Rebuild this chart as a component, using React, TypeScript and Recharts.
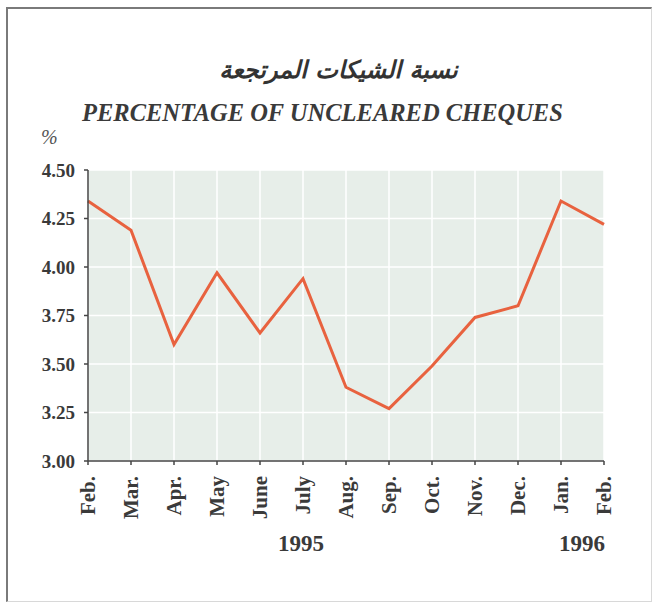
import { LineChart, Line, XAxis, YAxis, CartesianGrid } from "recharts";

const months = ["Feb.", "Mar.", "Apr.", "May", "June", "July", "Aug.", "Sep.", "Oct.", "Nov.", "Dec.", "Jan.", "Feb."];
const uncleared = [4.34, 4.19, 3.6, 3.97, 3.66, 3.94, 3.38, 3.27, 3.49, 3.74, 3.8, 4.34, 4.22];
const yTicks = [3, 3.25, 3.5, 3.75, 4, 4.25, 4.5];

const data = months.map((m, i) => ({ idx: i, month: m, value: uncleared[i] }));

const serif = "'Liberation Serif', 'Times New Roman', serif";

// rotated month labels, reading bottom-to-top
// eslint-disable-next-line @typescript-eslint/no-explicit-any
function MonthTick({ x, y, payload }: any) {
  const tx = x + 7;
  const ty = y + 9;
  return (
    <text
      x={tx}
      y={ty}
      transform={`rotate(-90 ${tx} ${ty})`}
      textAnchor="end"
      fontFamily={serif}
      fontWeight="bold"
      fontSize={21}
      fill="#3a3a3a"
    >
      {months[payload.value]}
    </text>
  );
}

export default function App() {
  return (
    <div style={{ position: "absolute", left: 0, top: 0, width: 653, height: 604, background: "#fff", fontFamily: serif }}>
      <div
        style={{
          position: "absolute",
          left: 6,
          top: 7,
          width: 643,
          height: 592,
          borderLeft: "2px solid #7a7a7a",
          borderTop: "2px solid #7a7a7a",
          borderRight: "1px solid #d8d8d8",
          borderBottom: "1px solid #d8d8d8",
        }}
      />
      <div style={{ position: "absolute", left: 12, width: 653, top: 56, textAlign: "center", fontFamily: "'DejaVu Sans', sans-serif", fontSize: 24, fontWeight: "bold", fontStyle: "italic", color: "#333" }} dir="rtl">
        نسبة الشيكات المرتجعة
      </div>
      <div style={{ position: "absolute", left: 82, top: 99, fontSize: 24.5, fontWeight: "bold", fontStyle: "italic", color: "#3a3a3a", whiteSpace: "nowrap" }}>
        PERCENTAGE OF UNCLEARED CHEQUES
      </div>
      <div style={{ position: "absolute", left: 41, top: 126, fontSize: 20, fontStyle: "italic", color: "#555" }}>%</div>
      <div style={{ position: "absolute", left: 278, top: 531, fontSize: 23, fontWeight: "bold", color: "#3a3a3a" }}>1995</div>
      <div style={{ position: "absolute", left: 559, top: 531, fontSize: 23, fontWeight: "bold", color: "#3a3a3a" }}>1996</div>
      <LineChart width={653} height={604} data={data} margin={{ top: 170, right: 49, left: 28, bottom: 83 }}>
        <CartesianGrid fill="#e7eee9" stroke="#ffffff" strokeWidth={1.5} verticalValues={months.map((_, i) => i)} horizontalValues={yTicks} />
        <XAxis
          dataKey="idx"
          type="number"
          domain={[0, months.length - 1]}
          ticks={months.map((_, i) => i)}
          interval={0}
          height={60}
          tick={<MonthTick />}
          tickSize={4}
          stroke="#444"
          strokeWidth={1.5}
        />
        <XAxis xAxisId="top" orientation="top" dataKey="idx" type="number" domain={[0, months.length - 1]} tick={false} tickLine={false} height={0} stroke="#444" strokeWidth={1.5} />
        <YAxis
          domain={[3, 4.5]}
          ticks={yTicks}
          interval={0}
          width={60}
          tickFormatter={(v: number) => v.toFixed(2)}
          tick={{ fontFamily: serif, fontWeight: "bold", fontSize: 19, fill: "#3a3a3a" }}
          tickSize={4}
          tickMargin={9}
          stroke="#444"
          strokeWidth={1.5}
        />
        <YAxis yAxisId="right" orientation="right" domain={[3, 4.5]} tick={false} tickLine={false} width={0} stroke="#444" strokeWidth={1.5} />
        <Line dataKey="value" stroke="#e8623f" strokeWidth={3} dot={false} isAnimationActive={false} />
      </LineChart>
    </div>
  );
}
